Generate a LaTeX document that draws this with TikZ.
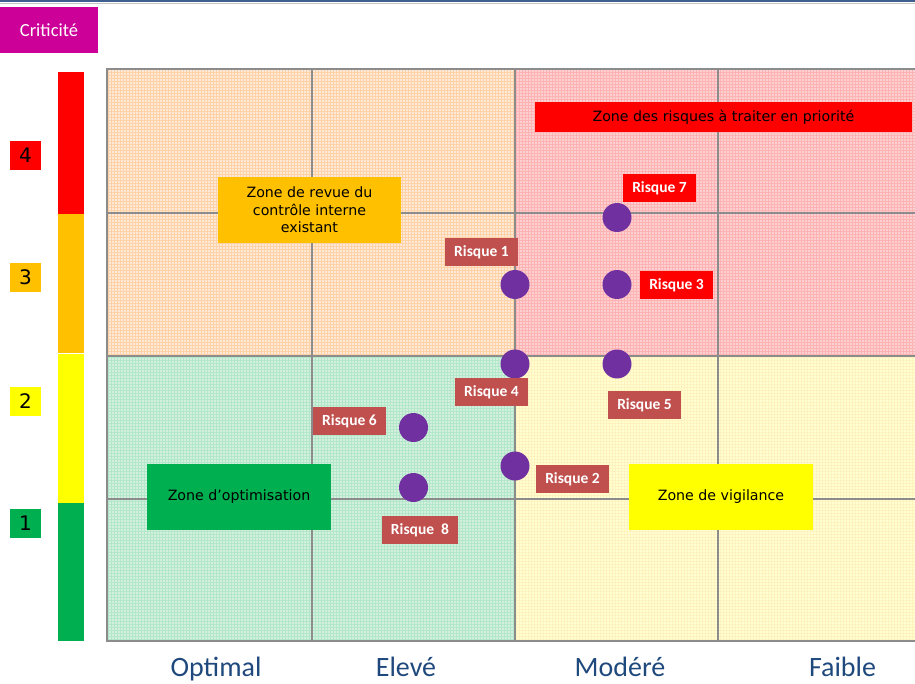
\documentclass[tikz,border=0pt]{standalone}
\usepackage{fontspec}
\setmainfont{Carlito}
\newfontfamily\zonefont{DejaVu Sans}
\usetikzlibrary{patterns}

\definecolor{magcrit}{HTML}{CC0099}
\definecolor{rouge}{HTML}{FF0000}
\definecolor{orangeor}{HTML}{FFC000}
\definecolor{jaune}{HTML}{FFFF00}
\definecolor{vert}{HTML}{00B050}
\definecolor{brique}{HTML}{C0504D}
\definecolor{violet}{HTML}{7030A0}
\definecolor{bleuaxe}{HTML}{1F497D}
\definecolor{filet}{HTML}{3F5F8F}
\definecolor{grille}{HTML}{8C8C8C}
\definecolor{peche}{HTML}{FDE9DA}
\definecolor{rose}{HTML}{FAD0D3}
\definecolor{menthe}{HTML}{D3F0DF}
\definecolor{creme}{HTML}{FFFFD2}

\begin{document}
\begin{tikzpicture}[x=1pt,y=-1pt,
  zone/.style={inner sep=0pt, minimum width=184pt, minimum height=66pt, align=center,
               font=\zonefont\fontsize{14.2}{17.5}\selectfont},
  risque/.style={fill=brique, text=white, inner sep=0pt, minimum width=73pt,
                 minimum height=28pt, font=\bfseries\fontsize{15.5}{15.5}\selectfont},
  niveau/.style={inner sep=0pt, minimum width=31pt, minimum height=29pt,
                 font=\zonefont\fontsize{20}{20}\selectfont},
  point/.style={circle, fill=violet, minimum size=29pt, inner sep=0pt},
  axe/.style={anchor=base, text=bleuaxe, font=\fontsize{28}{28}\selectfont},
  trame/.style={pattern=grid, pattern color=#1}]
  \useasboundingbox (0,0) rectangle (915,684);
  \draw[filet, line width=2pt] (0,1) -- (915,1);
  \draw[grille!50, line width=0.8pt] (0,3.2) -- (915,3.2);

  % criticite scale
  \node[fill=magcrit, text=white, inner sep=0pt, minimum width=98pt, minimum height=46pt,
        font=\fontsize{18.5}{18.5}\selectfont] (crit) at (49,30) {Criticité};
  \fill[rouge] (58,72) rectangle (84,214);
  \fill[orangeor] (58,214) rectangle (84,352.5);
  \fill[jaune] (58,354) rectangle (84,503);
  \fill[vert] (58,503) rectangle (84,641);
  \node[niveau, fill=rouge] (n4) at (25.5,155.5) {4};
  \node[niveau, fill=orangeor] (n3) at (25.5,277.5) {3};
  \node[niveau, fill=jaune] (n2) at (25.5,401.5) {2};
  \node[niveau, fill=vert] (n1) at (25.5,523.5) {1};

  % zones
  \fill[peche] (107,69) rectangle (515,356);
  \fill[rose] (515,69) rectangle (920,356);
  \fill[menthe] (107,356) rectangle (515,641);
  \fill[creme] (515,356) rectangle (920,641);
  \path[trame=orange!35] (107,69) rectangle (515,356);
  \path[trame=red!30] (515,69) rectangle (920,356);
  \path[trame=green!40!teal!30] (107,356) rectangle (515,641);
  \path[trame=yellow!60!orange!25] (515,356) rectangle (920,641);
  \draw[grille, line width=1.5pt] (107,69) rectangle (920,641);
  \foreach \x in {312,515,718} \draw[grille, line width=1.5pt] (\x,69) -- (\x,641);
  \foreach \y in {213,356,499} \draw[grille, line width=1.5pt] (107,\y) -- (920,\y);

  \node[zone, fill=orangeor, minimum width=183pt] (zrevue) at (309.5,210)
    {Zone de revue du\\contrôle interne\\existant};
  \node[zone, fill=rouge, minimum width=377pt, minimum height=30pt] (zprio) at (723.5,117)
    {Zone des risques à traiter en priorité};
  \node[zone, fill=vert] (zoptim) at (239,497) {Zone d’optimisation};
  \node[zone, fill=jaune] (zvigil) at (721,497) {Zone de vigilance};

  % risques
  \foreach \i/\x/\y in {1/515/284.5, 2/515/466, 3/617/284.5, 4/515/364,
                        5/617/364, 6/413.5/427.5, 7/617/217.5, 8/413.5/487.5}
    \node[point] (d\i) at (\x,\y) {};
  \node[risque] (r1) at (481.5,252) {Risque 1};
  \node[risque, fill=rouge] (r7) at (659.5,188) {Risque 7};
  \node[risque, fill=rouge] (r3) at (676.5,285) {Risque 3};
  \node[risque] (r4) at (491.5,392) {Risque 4};
  \node[risque] (r6) at (349.5,421) {Risque 6};
  \node[risque, minimum width=76pt] (r8) at (420,530) {Risque\ \ 8};
  \node[risque] (r5) at (644.5,405) {Risque 5};
  \node[risque] (r2) at (572.5,479) {Risque 2};

  % axe
  \node[axe] (optimal) at (216,676) {Optimal};
  \node[axe] (eleve) at (406,676) {Elevé};
  \node[axe] (modere) at (620,676) {Modéré};
  \node[axe] (faible) at (842.5,676) {Faible};
\end{tikzpicture}
\end{document}
